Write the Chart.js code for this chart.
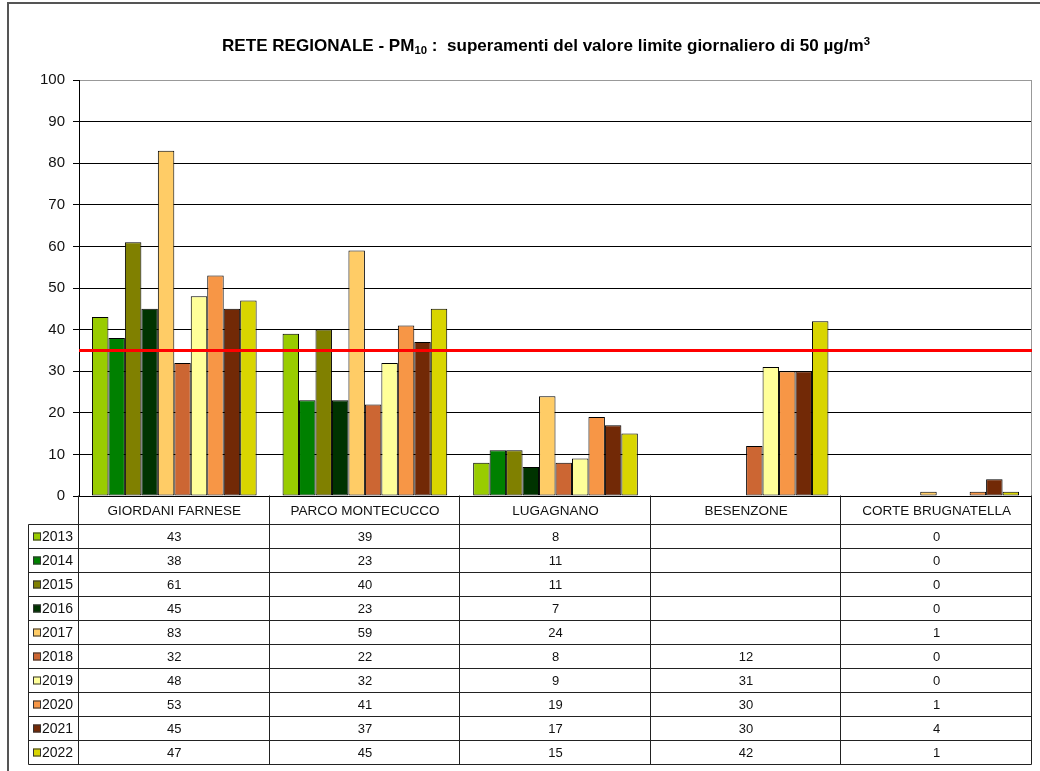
<!DOCTYPE html>
<html>
<head>
<meta charset="utf-8">
<script src="https://cdn.jsdelivr.net/npm/chart.js@4/dist/chart.umd.min.js"></script>
<style>
  html, body { margin: 0; padding: 0; background: #fff; }
  #wrap { position: relative; width: 1040px; height: 771px; }
  canvas { display: block; }
</style>
</head>
<body>
<div id="wrap"><canvas id="c" width="1040" height="771"></canvas></div>
<script>
// ---- data ----
const categories = ['GIORDANI FARNESE', 'PARCO MONTECUCCO', 'LUGAGNANO', 'BESENZONE', 'CORTE BRUGNATELLA'];
const years = ['2013', '2014', '2015', '2016', '2017', '2018', '2019', '2020', '2021', '2022'];
const s2013 = [43, 39, 8, null, 0];
const s2014 = [38, 23, 11, null, 0];
const s2015 = [61, 40, 11, null, 0];
const s2016 = [45, 23, 7, null, 0];
const s2017 = [83, 59, 24, null, 1];
const s2018 = [32, 22, 8, 12, 0];
const s2019 = [48, 32, 9, 31, 0];
const s2020 = [53, 41, 19, 30, 1];
const s2021 = [45, 37, 17, 30, 4];
const s2022 = [47, 45, 15, 42, 1];
const limitValue = 35;
const yMin = 0, yMax = 100, yStep = 10;
const titleParts = [
  { t: 'RETE REGIONALE - PM', k: 'n' },
  { t: '10', k: 'sub' },
  { t: ' :  superamenti del valore limite giornaliero di 50 µg/m', k: 'n' },
  { t: '3', k: 'sup' }
];

const seriesValues = [s2013, s2014, s2015, s2016, s2017, s2018, s2019, s2020, s2021, s2022];
const seriesColors = ['#99CC00', '#008000', '#808000', '#003300', '#FFCC66', '#CC6633', '#FFFF99', '#F79646', '#722906', '#D9D500'];

const FONT = '"Liberation Sans", Arial, sans-serif';

const datasets = years.map((y, i) => ({
  label: y,
  data: seriesValues[i],
  backgroundColor: seriesColors[i],
  borderColor: '#000',
  borderWidth: ctx => (ctx.raw === 0 ? 0 : 1),
  borderSkipped: false
}));

const decor = {
  id: 'decor',
  beforeDraw(chart) {
    const c = chart.ctx;
    c.save();
    c.fillStyle = '#fff';
    c.fillRect(0, 0, chart.width, chart.height);
    c.strokeStyle = '#555';
    c.lineWidth = 2;
    c.strokeRect(8, 3, chart.width + 20, chart.height + 20);
    c.restore();
  },
  afterDatasetsDraw(chart) {
    const c = chart.ctx;
    const a = chart.chartArea;
    const ys = chart.scales.y;
    const xs = chart.scales.x;
    c.save();
    // plot border right
    c.strokeStyle = '#999';
    c.lineWidth = 1;
    c.beginPath();
    c.moveTo(Math.round(a.right) - 0.5, a.top);
    c.lineTo(Math.round(a.right) - 0.5, a.bottom);
    c.stroke();
    // limit line
    const ly = ys.getPixelForValue(limitValue);
    c.strokeStyle = '#FF0000';
    c.lineWidth = 3;
    c.beginPath();
    c.moveTo(a.left, ly);
    c.lineTo(a.right, ly);
    c.stroke();

    // data table
    const n = categories.length;
    const colW = (xs.right - xs.left) / n;
    const bounds = [];
    for (let i = 0; i <= n; i++) bounds.push(Math.round(xs.left + i * colW) - 0.5);
    const headTop = Math.round(a.bottom) - 0.5;
    const rowTop = headTop + 29;
    const rowH = 24;
    const tableBottom = rowTop + rowH * years.length;
    const legLeft = 28.5;

    c.strokeStyle = '#222';
    c.lineWidth = 1;
    c.beginPath();
    bounds.forEach((bx) => {
      c.moveTo(bx, headTop);
      c.lineTo(bx, tableBottom);
    });
    c.moveTo(legLeft, rowTop);
    c.lineTo(legLeft, tableBottom);
    for (let r = 0; r <= years.length; r++) {
      const yy = rowTop + r * rowH;
      c.moveTo(legLeft, yy);
      c.lineTo(bounds[n], yy);
    }
    c.stroke();

    // header labels
    c.fillStyle = '#111';
    c.textAlign = 'center';
    c.textBaseline = 'middle';
    c.font = '13.5px ' + FONT;
    categories.forEach((cat, i) => {
      c.fillText(cat, xs.getPixelForValue(i), (headTop + rowTop) / 2 + 1);
    });
    // rows
    years.forEach((yr, r) => {
      const cy = rowTop + r * rowH + rowH / 2 + 1;
      c.fillStyle = seriesColors[r];
      c.fillRect(33, cy - 5, 8, 8);
      c.strokeStyle = '#333';
      c.strokeRect(33.5, cy - 4.5, 7, 7);
      c.fillStyle = '#111';
      c.textAlign = 'left';
      c.font = '14px ' + FONT;
      c.fillText(yr, 42, cy);
      c.textAlign = 'center';
      c.font = '13px ' + FONT;
      seriesValues[r].forEach((v, i) => {
        if (v !== null && v !== undefined) c.fillText(String(v), xs.getPixelForValue(i), cy);
      });
    });
    c.restore();
  },
  afterDraw(chart) {
    const c = chart.ctx;
    c.save();
    const base = 'bold 16.5px ' + FONT;
    const small = 'bold 11px ' + FONT;
    let w = 0;
    titleParts.forEach(p => {
      c.font = p.k === 'n' ? base : small;
      p.w = c.measureText(p.t).width;
      w += p.w;
    });
    const targetW = 648;
    const sx = targetW / w;
    const cx = 546;
    const baseY = 51;
    c.translate(cx - targetW / 2, baseY);
    c.scale(sx, 1);
    c.fillStyle = '#000';
    c.textBaseline = 'alphabetic';
    c.textAlign = 'left';
    let x = 0;
    titleParts.forEach(p => {
      c.font = p.k === 'n' ? base : small;
      const dy = p.k === 'sub' ? 3 : (p.k === 'sup' ? -6 : 0);
      c.fillText(p.t, x, dy);
      x += p.w;
    });
    c.restore();
  }
};

new Chart(document.getElementById('c'), {
  type: 'bar',
  data: { labels: categories, datasets },
  options: {
    responsive: false,
    animation: false,
    devicePixelRatio: 1,
    layout: { padding: { left: 0, top: 80, right: 8, bottom: 275 } },
    plugins: {
      legend: { display: false },
      title: { display: false },
      tooltip: { enabled: false }
    },
    datasets: { bar: { categoryPercentage: 0.864, barPercentage: 1 } },
    scales: {
      x: {
        display: false,
        offset: true
      },
      y: {
        min: yMin,
        max: yMax,
        afterFit: s => { s.width = 79; },
        ticks: {
          stepSize: yStep,
          padding: 8,
          color: '#111',
          font: { family: FONT, size: 15 }
        },
        grid: {
          color: ctx => (ctx.tick && ctx.tick.value === yMax ? '#999' : '#000'),
          tickColor: '#000',
          tickLength: 6,
          lineWidth: 1
        },
        border: { display: true, color: '#000', width: 1 }
      }
    }
  },
  plugins: [decor]
});
</script>
</body>
</html>
